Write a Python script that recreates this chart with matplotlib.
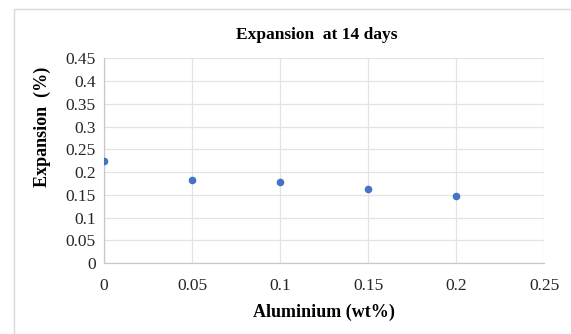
import matplotlib
matplotlib.use("Agg")
import matplotlib.pyplot as plt
from matplotlib.patches import Rectangle

# data
aluminium = [0, 0.05, 0.1, 0.15, 0.2]
expansion = [0.225, 0.182, 0.178, 0.162, 0.147]

x_ticks = [0, 0.05, 0.1, 0.15, 0.2, 0.25]
y_ticks = [0, 0.05, 0.1, 0.15, 0.2, 0.25, 0.3, 0.35, 0.4, 0.45]

plt.rcParams["font.family"] = ["Liberation Serif", "DejaVu Serif"]

fig = plt.figure(figsize=(5.71, 3.34), dpi=100)
ax = fig.add_axes([0.182, 0.212, 0.771, 0.613])

# light chart-area border like Excel (right and bottom run off the image)
fig.patches.append(Rectangle((14 / 571, -0.1), 1.1, 1 - 8.7 / 334 + 0.1,
                             transform=fig.transFigure, fill=False,
                             edgecolor="#d9d9d9", linewidth=1.0))

ax.scatter(aluminium, expansion, s=30, color="#4472c4", zorder=3, linewidths=0)

ax.set_xlim(0, 0.25)
ax.set_ylim(0, 0.45)
ax.set_xticks(x_ticks)
ax.set_yticks(y_ticks)
ax.set_xticklabels([f"{v:g}" for v in x_ticks])
ax.set_yticklabels([f"{v:g}" for v in y_ticks])
ax.tick_params(length=0, labelsize=12.5, labelcolor="#262626", pad=6)
ax.tick_params(axis="x", pad=11)

ax.grid(True, color="#e3e3e3", linewidth=0.9)
ax.set_axisbelow(True)
for s in ["top", "right"]:
    ax.spines[s].set_visible(False)
for s in ["left", "bottom"]:
    ax.spines[s].set_color("#c8c8c8")
    ax.spines[s].set_linewidth(0.9)

fig.text(0.555, 0.895, "Expansion  at 14 days", ha="center", va="center",
         fontsize=12.5, fontweight="bold")
fig.text(0.568, 0.065, "Aluminium (wt%)", ha="center", va="center",
         fontsize=13, fontweight="bold")
fig.text(0.075, 0.62, "Expansion  (%)", ha="center", va="center",
         rotation=90, fontsize=13, fontweight="bold")

fig.savefig("out.png", dpi=100)
